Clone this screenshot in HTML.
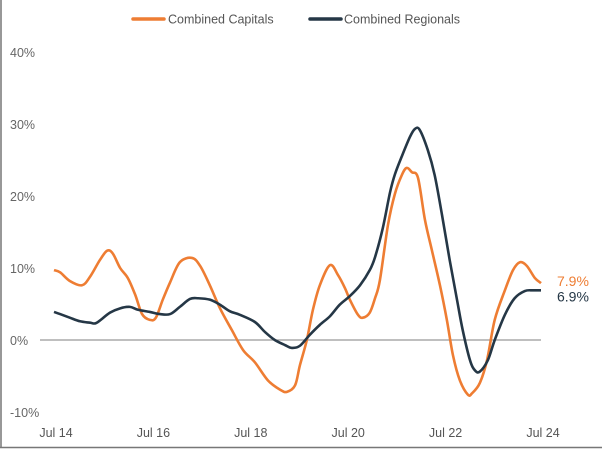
<!DOCTYPE html>
<html><head><meta charset="utf-8"><style>
body{margin:0;background:#fff;}
svg{display:block;font-family:"Liberation Sans",sans-serif;}
</style></head><body>
<svg id="chart" width="602" height="449" viewBox="0 0 602 449">
<line x1="1" y1="0" x2="1" y2="448" stroke="#777" stroke-width="1.5"/>
<line x1="0" y1="447.5" x2="602" y2="447.5" stroke="#777" stroke-width="1.5"/>
<g>
<line x1="133" y1="19" x2="164" y2="19" stroke="#ee7d33" stroke-width="3.5" stroke-linecap="round"/>
<text x="168" y="23.5" font-size="12.5" fill="#555">Combined Capitals</text>
<line x1="310" y1="19" x2="341" y2="19" stroke="#253746" stroke-width="3.5" stroke-linecap="round"/>
<text x="344" y="23.5" font-size="12.5" fill="#555">Combined Regionals</text>
</g>
<g id="axes"></g>
<g id="series"></g>
</svg>
<script>
const yTicks=[40,30,20,10,0,-10];
const xTickLabels=["Jul 14","Jul 16","Jul 18","Jul 20","Jul 22","Jul 24"];
const xTickMonths=[0,24,48,72,96,120];
const capMonths=[0,1.5,3.9,6.9,8.9,11.3,13.1,14.5,16.3,18.2,20,21.7,23.6,25.1,26.8,28.6,31,34,36,38.4,40.9,43.8,46.6,49.5,52.7,55.7,57.4,59.4,60.6,62.3,63.8,65.5,68,70,71.7,72.9,74.9,76.1,77.8,79.1,80.3,82.3,84,85.7,86.9,88.2,89.7,91.4,93.1,95.1,96.8,98.3,100,102,103,104.9,106.7,108.6,111.1,113.1,114.8,116.5,118.5,120];
const capValues=[9.7,9.4,8.2,7.6,8.8,11.1,12.4,12.0,10.0,8.6,6.3,3.6,2.8,3.1,5.6,8.0,10.8,11.4,10.3,7.6,4.4,1.4,-1.4,-3.1,-5.6,-6.9,-7.2,-6.3,-3.5,0,4.2,7.6,10.4,9.0,7.2,5.6,3.5,3.1,3.8,5.8,8.3,16.0,20.3,22.9,23.9,23.3,22.5,16.7,12.5,7.6,2.8,-2.1,-5.6,-7.6,-7.4,-6.0,-2.8,2.8,6.9,9.7,10.8,10.3,8.6,7.9];
const regMonths=[0,1.5,3.9,6.4,8.9,10.1,11.3,13.8,16.3,18.7,20.7,23.6,26.1,28.6,31,33.5,35.5,38.4,40.9,43.3,45.8,49.5,52,54.4,56.9,58.6,60.6,63,65.5,68,70.4,72.9,75.4,77.8,79.1,81,82.8,84,85.7,87.7,88.9,90.1,92.1,93.8,95.6,97.5,99.3,100.7,102.5,103.7,104.9,106.9,108.6,111.1,113.5,116,118,120];
const regValues=[3.9,3.6,3.1,2.6,2.4,2.3,2.7,3.8,4.4,4.6,4.2,3.9,3.6,3.6,4.6,5.7,5.8,5.6,4.9,4.0,3.5,2.5,1.1,0,-0.7,-1.1,-0.8,0.7,2.1,3.3,4.9,6.1,7.6,9.7,11.5,15.5,20.5,23.0,25.5,28.2,29.3,29.2,26.4,22.9,17.4,11.1,5.6,1.4,-2.8,-4.2,-4.4,-2.8,0,3.5,5.8,6.8,6.9,6.9];
const endLabels=["7.9%","6.9%"];

const NS="http://www.w3.org/2000/svg";
const xS=m=>54+m*(487/120);
const yS=v=>340-v*7.2;
function mk(tag,attrs,parent){const e=document.createElementNS(NS,tag);for(const k in attrs)e.setAttribute(k,attrs[k]);parent.appendChild(e);return e;}
const axes=document.getElementById('axes'), series=document.getElementById('series');
yTicks.forEach(t=>{
  const tx=mk('text',{x:10,y:yS(t)+5,'font-size':12.5,fill:'#666'},axes);
  tx.textContent=t+'%';
  
  
});
xTickLabels.forEach((l,i)=>{
  const tx=mk('text',{x:xS(xTickMonths[i])+2,y:437,'font-size':12.5,fill:'#555','text-anchor':'middle'},axes);
  tx.textContent=l;
  
  
});
const zl=mk('line',{x1:40,x2:541,y1:yS(0),y2:yS(0),stroke:'#999','stroke-width':1.3},axes);


function path(ms,vs){
  const p=ms.map((m,i)=>[xS(m),yS(vs[i])]);
  let d='M'+p[0][0]+','+p[0][1];
  for(let i=0;i<p.length-1;i++){
    const p0=p[i-1]||p[i],p1=p[i],p2=p[i+1],p3=p[i+2]||p2;
    const c1=[p1[0]+(p2[0]-p0[0])/6,p1[1]+(p2[1]-p0[1])/6];
    const c2=[p2[0]-(p3[0]-p1[0])/6,p2[1]-(p3[1]-p1[1])/6];
    d+=`C${c1[0]},${c1[1]} ${c2[0]},${c2[1]} ${p2[0]},${p2[1]}`;
  }
  return d;
}
const pc=mk('path',{d:path(capMonths,capValues),fill:'none',stroke:'#ee7d33','stroke-width':2.6,'stroke-linejoin':'round'},series);


const pr=mk('path',{d:path(regMonths,regValues),fill:'none',stroke:'#253746','stroke-width':2.6,'stroke-linejoin':'round'},series);


const l1=mk('text',{x:557,y:yS(capValues[capValues.length-1])+3,'font-size':14,fill:'#ee7d33'},series);
l1.textContent=endLabels[0];


const l2=mk('text',{x:557,y:yS(regValues[regValues.length-1])+11,'font-size':14,fill:'#253746'},series);
l2.textContent=endLabels[1];


</script>
</body></html>
